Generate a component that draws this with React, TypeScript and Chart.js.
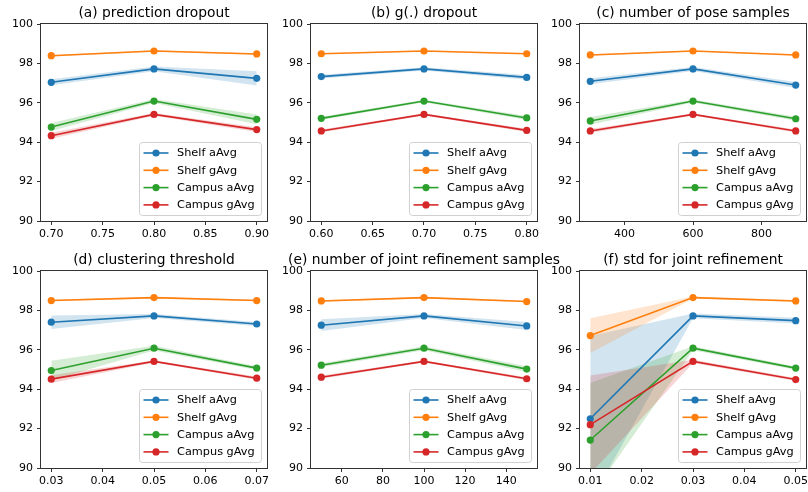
import React, { useEffect, useRef } from 'react';
import { Chart, registerables } from 'chart.js';

Chart.register(...registerables);

const FONT = "'DejaVu Sans', sans-serif";
const SERIES_NAMES = ['Shelf aAvg', 'Shelf gAvg', 'Campus aAvg', 'Campus gAvg'];
const COLORS = ['#1f77b4', '#ff7f0e', '#2ca02c', '#d62728'];
const BAND_COLORS = [
  'rgba(31,119,180,0.2)',
  'rgba(255,127,14,0.2)',
  'rgba(44,160,44,0.2)',
  'rgba(214,39,40,0.2)',
];
const Y_TICKS = [90, 92, 94, 96, 98, 100];

// (a) prediction dropout
const aTitle = '(a) prediction dropout';
const aX = [0.7, 0.8, 0.9];
const aXTicks = [0.7, 0.75, 0.8, 0.85, 0.9];
const aShelfA = [97.04, 97.72, 97.24];
const aShelfG = [98.39, 98.63, 98.48];
const aCampusA = [94.77, 96.09, 95.16];
const aCampusG = [94.33, 95.41, 94.64];
const aShelfASd = [0.15, 0.12, 0.36];
const aShelfGSd = [0.04, 0.04, 0.04];
const aCampusASd = [0.2, 0.1, 0.25];
const aCampusGSd = [0.15, 0.07, 0.12];

// (b) g(.) dropout
const bTitle = '(b) g(.) dropout';
const bX = [0.6, 0.7, 0.8];
const bXTicks = [0.6, 0.65, 0.7, 0.75, 0.8];
const bShelfA = [97.33, 97.72, 97.29];
const bShelfG = [98.49, 98.63, 98.49];
const bCampusA = [95.21, 96.09, 95.23];
const bCampusG = [94.57, 95.41, 94.6];
const bShelfASd = [0.1, 0.08, 0.12];
const bShelfGSd = [0.03, 0.03, 0.03];
const bCampusASd = [0.08, 0.06, 0.1];
const bCampusGSd = [0.08, 0.05, 0.08];

// (c) number of pose samples
const cTitle = '(c) number of pose samples';
const cX = [300, 600, 900];
const cXTicks = [400, 600, 800];
const cShelfA = [97.09, 97.72, 96.9];
const cShelfG = [98.43, 98.63, 98.43];
const cCampusA = [95.08, 96.09, 95.19];
const cCampusG = [94.57, 95.41, 94.57];
const cShelfASd = [0.15, 0.1, 0.15];
const cShelfGSd = [0.03, 0.03, 0.03];
const cCampusASd = [0.2, 0.08, 0.1];
const cCampusGSd = [0.1, 0.05, 0.08];

// (d) clustering threshold
const dTitle = '(d) clustering threshold';
const dX = [0.03, 0.05, 0.07];
const dXTicks = [0.03, 0.04, 0.05, 0.06, 0.07];
const dShelfA = [97.4, 97.72, 97.31];
const dShelfG = [98.5, 98.65, 98.5];
const dCampusA = [94.95, 96.08, 95.07];
const dCampusG = [94.51, 95.41, 94.56];
const dShelfASd = [0.34, 0.1, 0.1];
const dShelfGSd = [0.04, 0.04, 0.04];
const dCampusASd = [0.5, 0.12, 0.1];
const dCampusGSd = [0.2, 0.05, 0.08];

// (e) number of joint refinement samples
const eTitle = '(e) number of joint refinement samples';
const eX = [50, 100, 150];
const eXTicks = [60, 80, 100, 120, 140];
const eShelfA = [97.25, 97.72, 97.21];
const eShelfG = [98.48, 98.65, 98.45];
const eCampusA = [95.22, 96.08, 95.02];
const eCampusG = [94.61, 95.41, 94.53];
const eShelfASd = [0.3, 0.1, 0.2];
const eShelfGSd = [0.04, 0.04, 0.04];
const eCampusASd = [0.1, 0.1, 0.15];
const eCampusGSd = [0.08, 0.05, 0.08];

// (f) std for joint refinement
const fTitle = '(f) std for joint refinement';
const fX = [0.01, 0.03, 0.05];
const fXTicks = [0.01, 0.02, 0.03, 0.04, 0.05];
const fShelfA = [92.5, 97.72, 97.48];
const fShelfG = [96.72, 98.65, 98.48];
const fCampusA = [91.42, 96.08, 95.07];
const fCampusG = [92.2, 95.41, 94.49];
const fShelfASd = [4.2, 0.12, 0.15];
const fShelfGSd = [0.88, 0.05, 0.05];
const fCampusASd = [2.9, 0.1, 0.08];
const fCampusGSd = [2.5, 0.08, 0.08];

type PanelCfg = {
  title: string;
  x: number[];
  xTicks: number[];
  decimals: number;
  means: number[][];
  sds: number[][];
};

const PANELS: PanelCfg[] = [
  { title: aTitle, x: aX, xTicks: aXTicks, decimals: 2, means: [aShelfA, aShelfG, aCampusA, aCampusG], sds: [aShelfASd, aShelfGSd, aCampusASd, aCampusGSd] },
  { title: bTitle, x: bX, xTicks: bXTicks, decimals: 2, means: [bShelfA, bShelfG, bCampusA, bCampusG], sds: [bShelfASd, bShelfGSd, bCampusASd, bCampusGSd] },
  { title: cTitle, x: cX, xTicks: cXTicks, decimals: 0, means: [cShelfA, cShelfG, cCampusA, cCampusG], sds: [cShelfASd, cShelfGSd, cCampusASd, cCampusGSd] },
  { title: dTitle, x: dX, xTicks: dXTicks, decimals: 2, means: [dShelfA, dShelfG, dCampusA, dCampusG], sds: [dShelfASd, dShelfGSd, dCampusASd, dCampusGSd] },
  { title: eTitle, x: eX, xTicks: eXTicks, decimals: 0, means: [eShelfA, eShelfG, eCampusA, eCampusG], sds: [eShelfASd, eShelfGSd, eCampusASd, eCampusGSd] },
  { title: fTitle, x: fX, xTicks: fXTicks, decimals: 2, means: [fShelfA, fShelfG, fCampusA, fCampusG], sds: [fShelfASd, fShelfGSd, fCampusASd, fCampusGSd] },
];

// layout
const AX_LEFTS = [41, 311, 580];
const AX_TOPS = [24, 271];
const AX_W = 226;
const AX_H = 197;
const PAD_L = 41;
const PAD_T = 24;
const PAD_B = 26;
const PAD_R = 3;

const framePlugin = {
  id: 'frame',
  afterDraw(chart: any) {
    const { ctx, chartArea: ca } = chart;
    ctx.save();
    ctx.strokeStyle = '#333';
    ctx.lineWidth = 1;
    ctx.strokeRect(Math.round(ca.left) - 0.5, Math.round(ca.top) - 0.5, Math.round(ca.right - ca.left) + 1, Math.round(ca.bottom - ca.top) + 1);
    ctx.restore();
  },
};

const legendPlugin = {
  id: 'boxLegend',
  afterDraw(chart: any) {
    const { ctx, chartArea: ca } = chart;
    const w = 122;
    const h = 73;
    const x = ca.right - 5.5 - w;
    const y = ca.bottom - 5.5 - h;
    ctx.save();
    ctx.beginPath();
    const r = 3;
    ctx.moveTo(x + r, y);
    ctx.lineTo(x + w - r, y);
    ctx.arcTo(x + w, y, x + w, y + r, r);
    ctx.lineTo(x + w, y + h - r);
    ctx.arcTo(x + w, y + h, x + w - r, y + h, r);
    ctx.lineTo(x + r, y + h);
    ctx.arcTo(x, y + h, x, y + h - r, r);
    ctx.lineTo(x, y + r);
    ctx.arcTo(x, y, x + r, y, r);
    ctx.closePath();
    ctx.fillStyle = 'rgba(255,255,255,0.8)';
    ctx.fill();
    ctx.strokeStyle = '#d0d0d0';
    ctx.lineWidth = 1;
    ctx.stroke();
    SERIES_NAMES.forEach((name, i) => {
      const cy = y + 10.5 + i * 17.3;
      ctx.strokeStyle = COLORS[i];
      ctx.lineWidth = 1.6;
      ctx.beginPath();
      ctx.moveTo(x + 4, cy);
      ctx.lineTo(x + 29, cy);
      ctx.stroke();
      ctx.fillStyle = COLORS[i];
      ctx.beginPath();
      ctx.arc(x + 16.5, cy, 3.6, 0, Math.PI * 2);
      ctx.fill();
      ctx.fillStyle = '#000';
      ctx.font = `11.3px ${FONT}`;
      ctx.textBaseline = 'middle';
      ctx.textAlign = 'left';
      ctx.fillText(name, x + 37.5, cy + 0.5);
    });
    ctx.restore();
  },
};

function Panel({ cfg, axLeft, axTop }: { cfg: PanelCfg; axLeft: number; axTop: number }) {
  const ref = useRef<HTMLCanvasElement | null>(null);
  useEffect(() => {
    if (!ref.current) return;
    const datasets: any[] = [];
    cfg.means.forEach((m, i) => {
      datasets.push({
        label: SERIES_NAMES[i],
        data: cfg.x.map((x, j) => ({ x, y: m[j] })),
        borderColor: COLORS[i],
        backgroundColor: COLORS[i],
        borderWidth: 1.6,
        pointRadius: 3.6,
        pointHoverRadius: 3.6,
        pointBorderWidth: 0,
        pointBackgroundColor: COLORS[i],
        fill: false,
        tension: 0,
        order: 4 - i,
      });
    });
    cfg.means.forEach((m, i) => {
      const sd = cfg.sds[i];
      datasets.push({
        data: cfg.x.map((x, j) => ({ x, y: m[j] + sd[j] })),
        borderColor: 'transparent',
        borderWidth: 0,
        pointRadius: 0,
        fill: '+1',
        backgroundColor: BAND_COLORS[i],
        tension: 0,
        order: 20 - i,
      });
      datasets.push({
        data: cfg.x.map((x, j) => ({ x, y: m[j] - sd[j] })),
        borderColor: 'transparent',
        borderWidth: 0,
        pointRadius: 0,
        fill: false,
        tension: 0,
        order: 20 - i,
      });
    });
    const xMin = cfg.x[0];
    const xMax = cfg.x[cfg.x.length - 1];
    const margin = (xMax - xMin) * 0.05;
    const tickFont = { family: FONT, size: 11 };
    const chart = new Chart(ref.current, {
      type: 'line',
      data: { datasets },
      options: {
        animation: false,
        responsive: true,
        maintainAspectRatio: false,
        events: [],
        layout: { autoPadding: false, padding: { top: PAD_T, right: PAD_R, left: 0, bottom: 0 } },
        plugins: { legend: { display: false }, tooltip: { enabled: false }, title: { display: false } },
        scales: {
          x: {
            type: 'linear',
            min: xMin - margin,
            max: xMax + margin,
            afterBuildTicks: (s: any) => {
              s.ticks = cfg.xTicks.map((v) => ({ value: v }));
            },
            afterFit: (s: any) => {
              s.height = PAD_B;
              s.paddingLeft = 0;
              s.paddingRight = 0;
            },
            border: { display: false },
            grid: { display: true, drawOnChartArea: false, drawTicks: true, tickLength: 4, color: '#333', tickColor: '#333', lineWidth: 1 },
            ticks: {
              autoSkip: false,
              maxRotation: 0,
              padding: 3,
              color: '#000',
              font: tickFont,
              callback: (v: any) => Number(v).toFixed(cfg.decimals),
            },
          },
          y: {
            type: 'linear',
            min: 90,
            max: 100,
            afterBuildTicks: (s: any) => {
              s.ticks = Y_TICKS.map((v) => ({ value: v }));
            },
            afterFit: (s: any) => {
              s.width = PAD_L;
              s.paddingTop = 0;
              s.paddingBottom = 0;
            },
            border: { display: false },
            grid: { display: true, drawOnChartArea: false, drawTicks: true, tickLength: 4, color: '#333', tickColor: '#333', lineWidth: 1 },
            ticks: {
              padding: 4,
              color: '#000',
              font: tickFont,
              callback: (v: any) => String(v),
            },
          },
        },
      } as any,
      plugins: [framePlugin, legendPlugin],
    });
    return () => chart.destroy();
  }, [cfg]);

  const w = PAD_L + AX_W + PAD_R;
  const h = PAD_T + AX_H + PAD_B;
  return (
    <>
      <div style={{ position: 'absolute', left: axLeft - PAD_L, top: axTop - PAD_T, width: w, height: h }}>
        <canvas ref={ref} />
      </div>
      <div
        style={{
          position: 'absolute',
          left: axLeft + AX_W / 2,
          top: axTop - 21,
          transform: 'translateX(-50%)',
          whiteSpace: 'nowrap',
          fontFamily: FONT,
          fontSize: '13.8px',
          lineHeight: '18px',
          color: '#000',
          zIndex: 2,
        }}
      >
        {cfg.title}
      </div>
    </>
  );
}

export default function App() {
  return (
    <div style={{ position: 'fixed', left: 0, top: 0, width: 808, height: 492, overflow: 'hidden', background: '#fff' }}>
      {PANELS.map((cfg, i) => (
        <Panel key={i} cfg={cfg} axLeft={AX_LEFTS[i % 3]} axTop={AX_TOPS[Math.floor(i / 3)]} />
      ))}
    </div>
  );
}
